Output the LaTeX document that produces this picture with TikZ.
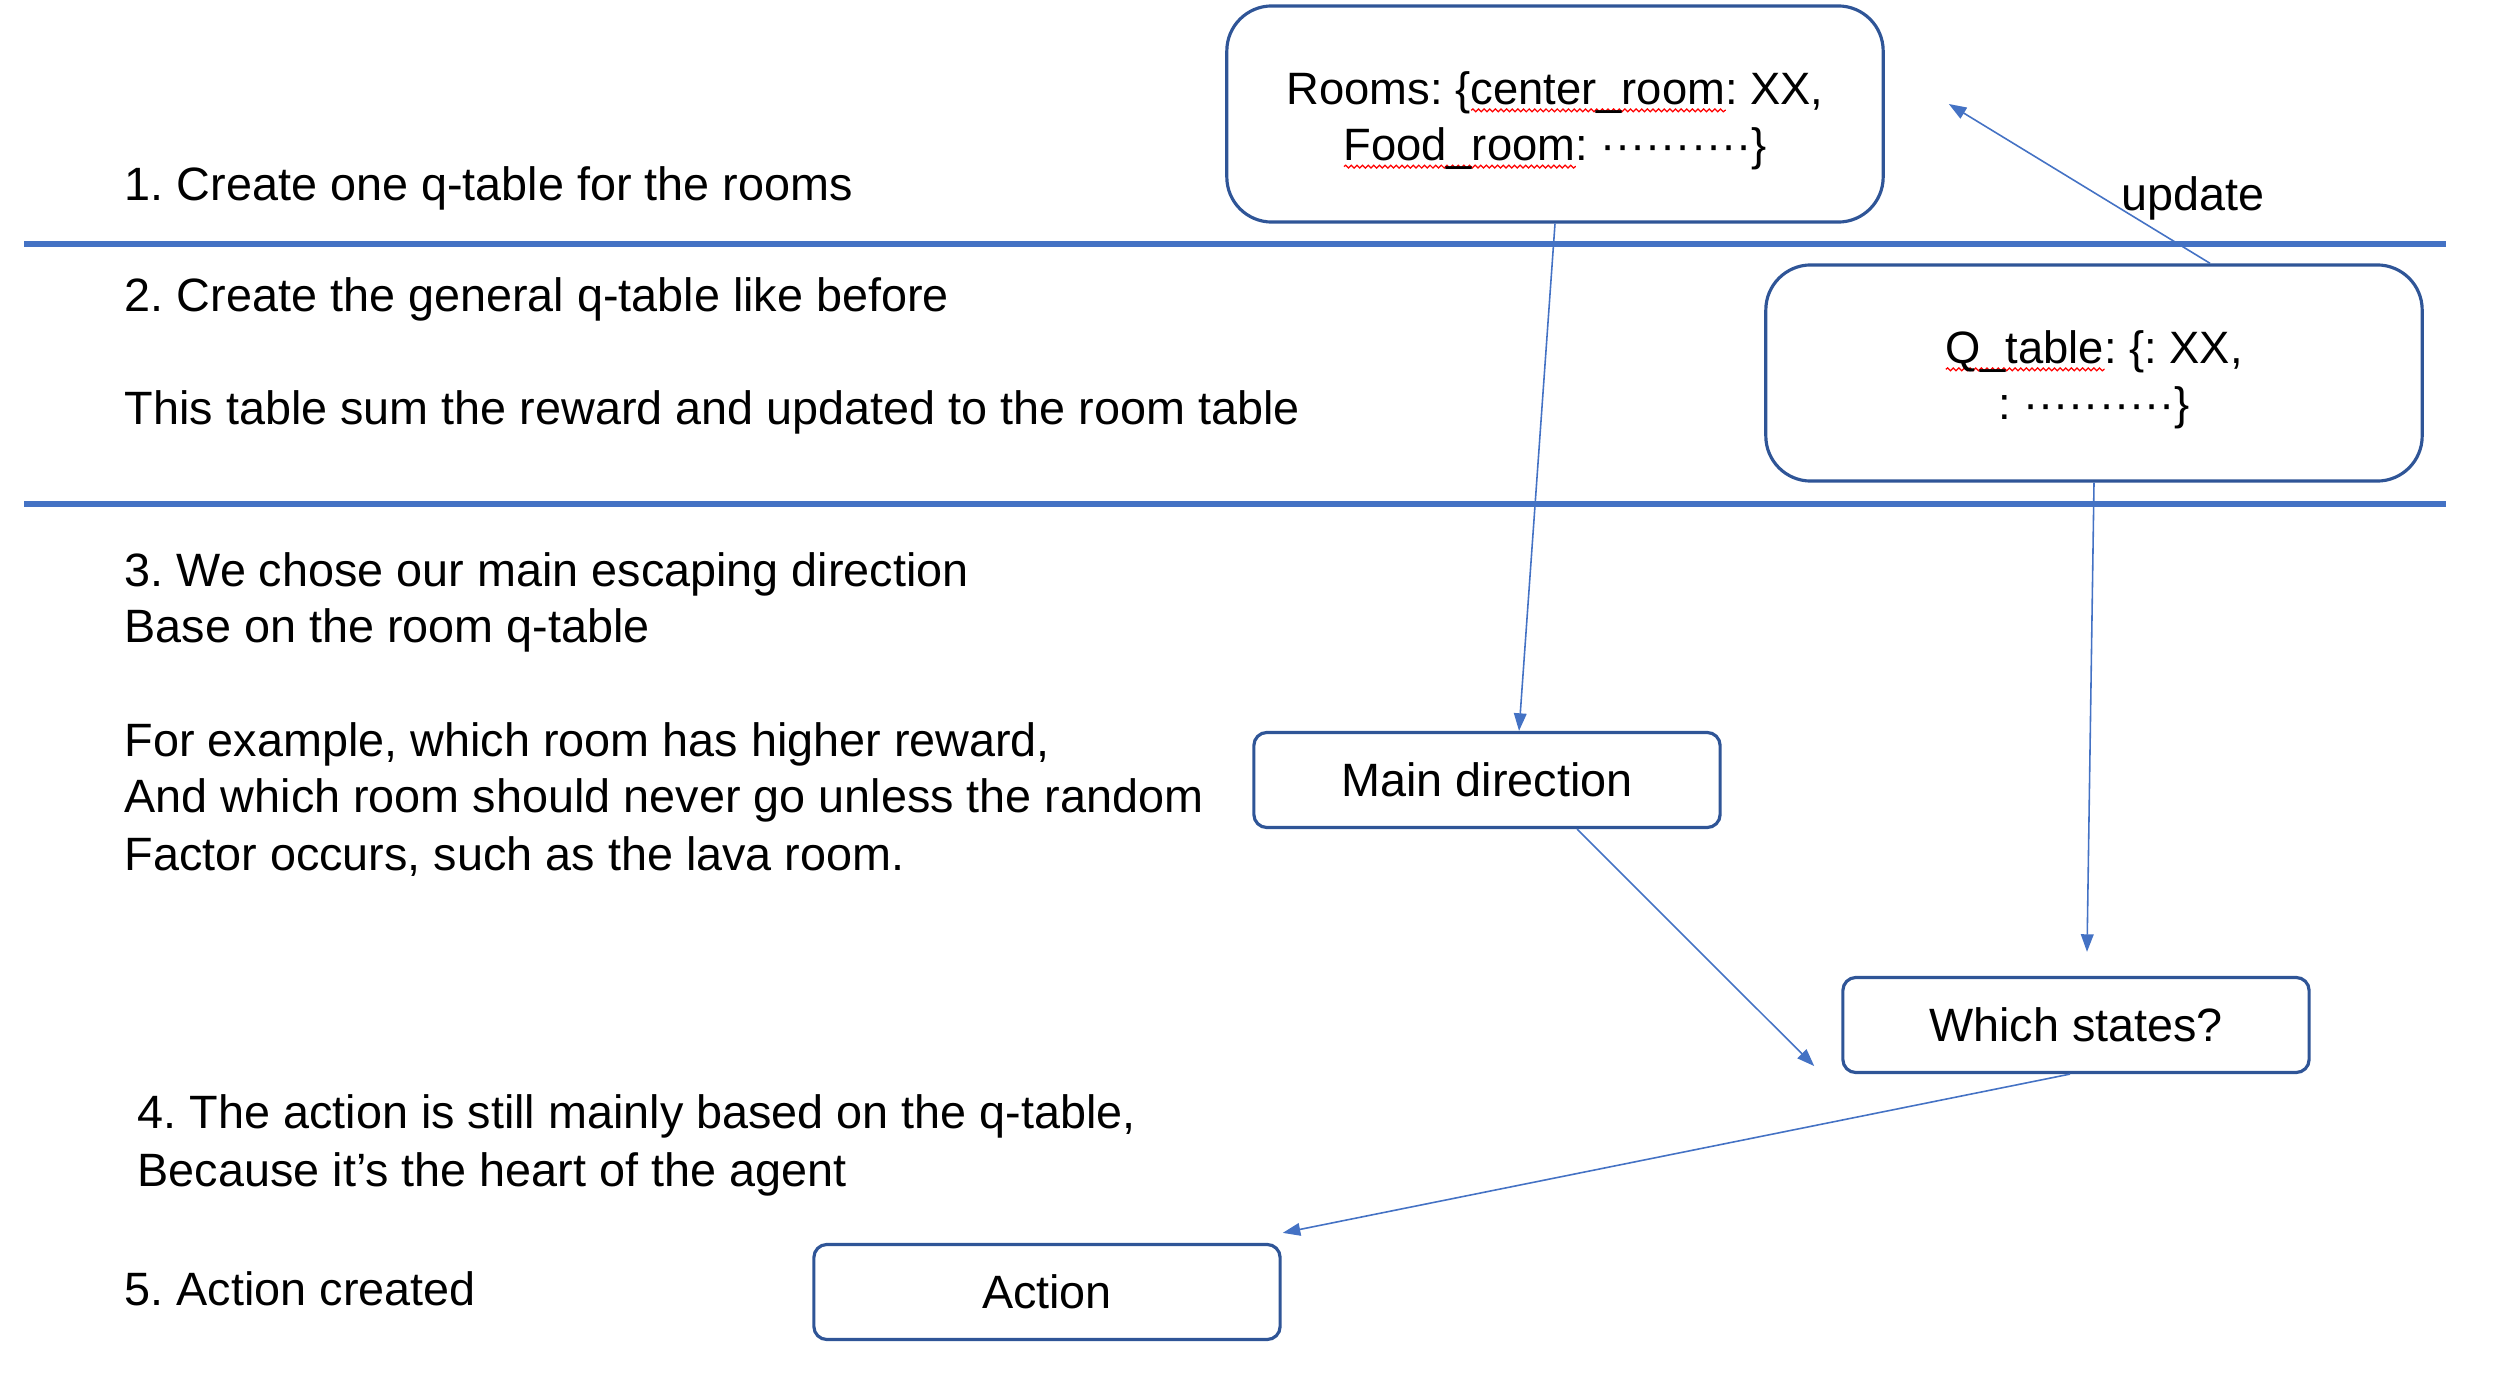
\documentclass[tikz,border=0pt]{standalone}
\usepackage{fontspec}
\setmainfont{Liberation Sans}
\usetikzlibrary{arrows.meta, decorations.pathmorphing}

\definecolor{sepBlue}{HTML}{4472C4}
\definecolor{boxBlue}{HTML}{2F5597}

% red spell-check wave under a word
\newlength\spellwd
\newcommand\spellmark[1]{\settowidth{\spellwd}{#1}\rlap{\smash{\tikz[baseline=0pt, x=1pt, y=1pt]\draw[red, sharp corners, line width=0.35pt, decorate, decoration={snake, amplitude=0.4pt, segment length=1.6pt}] (0pt,-1.8pt) -- (\spellwd,-1.8pt);}}#1}
\newcommand\dotrow{··········}

\begin{document}
\frenchspacing
\begin{tikzpicture}[x=0.01cm, y=-0.01cm,
    every node/.style={font=\fontsize{13.3}{16.3}\selectfont},
    bigBox/.style={draw=boxBlue, line width=0.9pt, rounded corners=0.45cm, minimum width=6.56cm, minimum height=2.16cm, align=center, inner sep=0pt, font=\fontsize{12.9}{16}\selectfont},
    smallBox/.style={draw=boxBlue, line width=0.9pt, rounded corners=0.13cm, minimum width=4.66cm, minimum height=0.95cm, inner sep=0pt},
    stepText/.style={anchor=base west, inner sep=0pt},
    flow/.style={draw=sepBlue, line width=0.45pt, -{Triangle[length=5pt, width=3.6pt]}},
    sepLine/.style={draw=sepBlue, line width=1.5pt}]
    \useasboundingbox (0,0) rectangle (2502,1391);

    % section separators
    \draw[sepLine] (24,244) -- (2446,244);
    \draw[sepLine] (24,504) -- (2446,504);

    % steps on the left
    \node[stepText] (step1) at (124,201) {1. Create one q-table for the rooms};
    \node[stepText] (step2) at (124,311) {2. Create the general q-table like before};
    \node[stepText] (note2) at (124,424) {This table sum the reward and updated to the room table};
    \node[stepText] (step3a) at (124,586) {3. We chose our main escaping direction};
    \node[stepText] (step3b) at (124,642) {Base on the room q-table};
    \node[stepText] (ex1) at (124,756) {For example, which room has higher reward,};
    \node[stepText] (ex2) at (124,812) {And which room should never go unless the random};
    \node[stepText] (ex3) at (124,870) {Factor occurs, such as the lava room.};
    \node[stepText] (step4a) at (137,1128) {4. The action is still mainly based on the q-table,};
    \node[stepText] (step4b) at (137,1186) {Because it’s the heart of the agent};
    \node[stepText] (step5) at (124,1305) {5. Action created};

    % tables and boxes
    \node[bigBox] (rooms) at (1555,114) {\rule{0pt}{13pt}Rooms: \{\spellmark{center\_room}: XX,\\ \spellmark{Food\_room}: \dotrow\}};
    \node[bigBox] (qtable) at (2094,373) {\rule{0pt}{13pt}\spellmark{Q\_table}: \{: XX,\\ : \dotrow\}};
    \node[smallBox] (main) at (1487,780) {Main direction};
    \node[smallBox] (states) at (2076,1025) {Which states?};
    \node[smallBox] (action) at (1047,1292) {Action};
    \node[stepText] (upd) at (2121,211) {update};

    \draw[flow] ([xshift=1.16cm]qtable.north) -- ([xshift=0.64cm, yshift=0.1cm]rooms.east);
    \draw[flow] (rooms.south) -- ([xshift=0.32cm]main.north);
    \draw[flow] (qtable.south) -- ([xshift=0.11cm, yshift=0.24cm]states.north);
    \draw[flow] ([xshift=0.9cm]main.south) -- ([xshift=-0.27cm, yshift=0.08cm]states.south west);
    \draw[flow] ([xshift=-0.06cm]states.south) -- ([xshift=0.01cm, yshift=0.1cm]action.north east);
\end{tikzpicture}
\end{document}
